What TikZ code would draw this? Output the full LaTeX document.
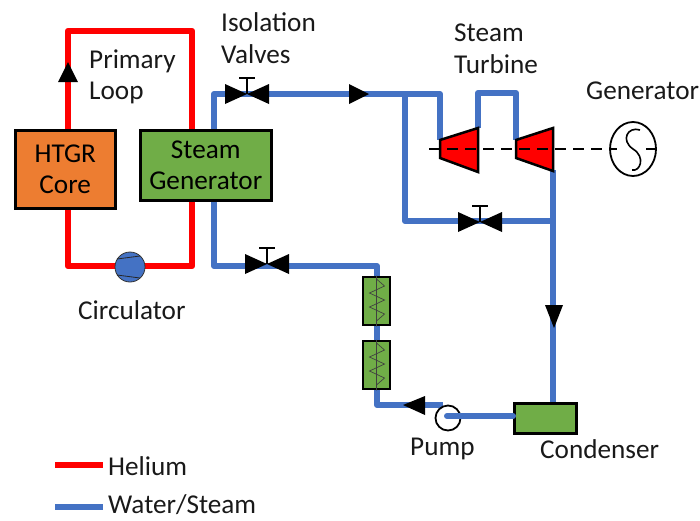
\documentclass[tikz,border=0pt]{standalone}
\usepackage{fontspec}
\setmainfont{Carlito}
\usetikzlibrary{calc,shapes.geometric}
\definecolor{pipeblue}{HTML}{4472C4}
\definecolor{boxgreen}{HTML}{70AD47}
\definecolor{boxorange}{HTML}{ED7D31}
\tikzset{
 x=1pt,y=-1pt,
 lbl/.style={font=\fontsize{27.2}{32}\selectfont,inner sep=0pt,align=left,text=black!90},
 bx/.style={draw=black,line width=2.5pt,inner sep=0pt,anchor=north west,font=\fontsize{27.2}{32}\selectfont,align=center},
 helium/.style={draw=red,line width=6.5pt,line join=round},
 water/.style={draw=pipeblue,line width=6pt,line join=round},
 tip/.style={fill=black,draw=none},
 turb/.style={fill=red,draw=black,line width=2.5pt,line join=miter},
}
\newcommand{\vlv}[1]{%
 \fill[black] ($(#1)+(-22,-10)$) -- (#1) -- ($(#1)+(-22,10)$) -- cycle;
 \fill[black] ($(#1)+(22,-10)$) -- (#1) -- ($(#1)+(22,10)$) -- cycle;
 \draw[black,line width=2.2pt] (#1) -- ($(#1)+(0,-16)$) ($(#1)+(-8,-16)$) -- ($(#1)+(8,-16)$);
}
\newcommand{\hx}[1]{%
 \node[bx,fill=boxgreen,minimum width=27pt,minimum height=48pt,anchor=center] (#1) at (#1c) {};
 \draw[black!75,line width=0.7pt] (#1.north) -- (#1.south)
  ($(#1c)+(0,-22)$) -- ++(8,7) -- ++(-15,7) -- ++(15,7) -- ++(-15,7) -- ++(15,7) -- ++(-8,7);
}
\begin{document}
\begin{tikzpicture}
\useasboundingbox (0,0) rectangle (700,520);
% named points
\coordinate (r1) at (68,31); \coordinate (r2) at (192,31); \coordinate (r3) at (192,266); \coordinate (r4) at (68,266);
\coordinate (v1) at (247,94); \coordinate (v2) at (267,264); \coordinate (v3) at (480,222);
\coordinate (hxac) at (376.5,301); \coordinate (hxbc) at (376.5,365);
\coordinate (gen) at (633,149);
% boxes
\node[bx,fill=boxorange,minimum width=100pt,minimum height=78pt] (core) at (14,129) {HTGR\\[-1pt]Core};
\node[bx,fill=boxgreen,minimum width=131pt,minimum height=70pt] (sg) at (139,129) {Steam\\[-1pt]Generator};
\node[bx,fill=boxgreen,minimum width=62pt,minimum height=30pt] (cond) at (513,402) {};
% helium
\draw[helium] (core.north -| r1) -- (r1) -- (r2) -- (sg.north -| r2);
\draw[helium] (sg.south -| r3) -- (r3) -- (r4) -- (core.south -| r4);
\fill[tip] (68,62) -- (58,82) -- (78,82) -- cycle;
\node[circle,draw=black!80,line width=0.8pt,fill=pipeblue,minimum size=30pt,inner sep=0pt] (circ) at (130,267) {};
\draw[black!85,line width=0.8pt] (117,259) -- (140,256) (117,275) -- (140,278);
% water
\coordinate (a1) at (214,94); \coordinate (a2) at (440,94); \coordinate (a3) at (405,94);
\coordinate (b1) at (405,221); \coordinate (b2) at (553,221);
\coordinate (t1in) at (440,140); \coordinate (t1out) at (478,128); \coordinate (t2in) at (516,140); \coordinate (t2out) at (553,170);
\draw[water] (sg.north -| a1) -- (a1) -- (a2) -- (t1in);
\draw[water] (a3) -- (b1) -- (b2);
\draw[water] (t1out) -- (478,93) -- (516,93) -- (t2in);
\draw[water] (t2out) -- (cond.north -| t2out);
\coordinate (c1) at (214,266); \coordinate (c2) at (377,266);
\draw[water] (sg.south -| c1) -- (c1) -- (c2) -- (377,280);
\draw[water] (377,320) -- (377,345);
\draw[water] (377,385) -- (377,405) -- (443,405);
\coordinate (pc) at (448,418);
\node[circle,draw=black,line width=1.8pt,minimum size=25pt,inner sep=0pt] (pump) at (pc) {};
\draw[water,line cap=round] (447,416) -- (cond.west |- 447,416);
% arrowheads
\fill[tip] (369,94) -- (349,84) -- (349,104) -- cycle;
\fill[tip] (554,328) -- (545,305) -- (563,305) -- cycle;
\fill[tip] (403,405) -- (425,396) -- (425,415) -- cycle;
% valves
\vlv{v1}\vlv{v2}\vlv{v3}
% heat exchangers
\hx{hxa}\hx{hxb}
% turbines
\draw[turb] (440,140) -- (478,128) -- (478,172) -- (440,158) -- cycle;
\draw[turb] (516,140) -- (553,128) -- (553,171) -- (516,158) -- cycle;
% generator
\node[ellipse,draw=black,line width=1.8pt,minimum width=46pt,minimum height=54pt,inner sep=0pt] (genc) at (gen) {};
\draw[black,line width=1.8pt,dash pattern=on 11pt off 7pt] (429,149) -- (genc.west);
\draw[black,line width=1.2pt] (genc.west) -- ++(8,0) (genc.east) -- ++(-11,0);
\draw[black,line width=1.6pt] (640,130) .. controls (628,126) and (620,140) .. (633,149) .. controls (646,157) and (640,172) .. (632,170);
% labels
\node[lbl,anchor=west] (l1) at (221,22) {Isolation};
\node[lbl,anchor=west] (l2) at (221,54) {Valves};
\node[lbl,anchor=west] (l3) at (454,33) {Steam};
\node[lbl,anchor=west] (l4) at (454,64) {Turbine};
\node[lbl,anchor=west] (l5) at (586,91) {Generator};
\node[lbl,anchor=west] (l6) at (89,61) {Primary};
\node[lbl,anchor=west] (l7) at (89,93) {Loop};
\node[lbl,anchor=west] (l8) at (78,310) {Circulator};
\node[lbl,anchor=west] (l9) at (410,449) {Pump};
\node[lbl,anchor=west] (l10) at (540,449) {Condenser};
% legend
\coordinate (k1) at (55,465); \coordinate (k2) at (55,507);
\node[lbl,anchor=west] (l11) at (108,466) {Helium};
\node[lbl,anchor=west] (l12) at (108,505) {Water/Steam};
\draw[helium] (k1) -- ($(k1)+(48,0)$);
\draw[water] (k2) -- ($(k2)+(48,0)$);
\end{tikzpicture}
\end{document}
